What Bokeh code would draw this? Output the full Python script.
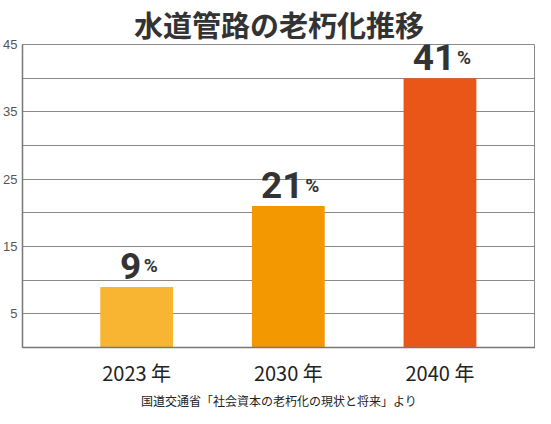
from bokeh.plotting import figure
from bokeh.models import Range1d, FixedTicker, Title, ColumnDataSource
from bokeh.core.properties import value
from bokeh.embed import file_html
from bokeh.resources import INLINE

# ---- data ----
categories = ["2023 年", "2030 年", "2040 年"]
values = [9, 21, 40]
value_labels = ["9", "21", "41"]
bar_colors = ["#F7B531", "#F39800", "#E95618"]
y_tick_values = [5, 15, 25, 35, 45]
grid_values = [0, 5, 10, 15, 20, 25, 30, 35, 40, 45]
title_text = "水道管路の老朽化推移"
source_text = "国道交通省「社会資本の老朽化の現状と将来」より"

xs = list(range(len(categories)))
src = ColumnDataSource(dict(
    x=xs, top=values, label=value_labels, color=bar_colors,
    pct=["%"] * len(xs),
    num_off=[-6] * len(xs),
    pct_off=[-6 + 10 * len(s) + 3 for s in value_labels],
))

p = figure(width=535, height=408,
           x_range=Range1d(-0.753, 2.630), y_range=Range1d(0, 45),
           output_backend="svg", toolbar_location=None,
           min_border_left=14, min_border_right=0,
           min_border_top=35, min_border_bottom=54)

p.title.text = title_text
p.title.align = "center"
p.title.text_font = "Noto Sans CJK JP"
p.title.text_font_size = "29px"
p.title.text_font_style = "bold"
p.title.text_color = "#333333"
p.title.standoff = 0

p.vbar(x="x", top="top", width=0.48, fill_color="color", line_color=None, source=src)

p.text(x="x", y="top", text="label", source=src, x_offset="num_off", y_offset=-21,
       text_align="center", text_baseline="alphabetic",
       text_font=value("Roboto"), text_font_style="bold", text_font_size="37px",
       text_color="#333333")
p.text(x="x", y="top", text="pct", source=src, x_offset="pct_off", y_offset=-21,
       text_align="left", text_baseline="alphabetic",
       text_font=value("Roboto"), text_font_style="bold", text_font_size="19px",
       text_color="#333333")

p.xgrid.visible = False
p.ygrid.ticker = FixedTicker(ticks=grid_values)
p.ygrid.grid_line_color = "#8a8a8a"
p.ygrid.grid_line_width = 1

p.yaxis.ticker = FixedTicker(ticks=y_tick_values)
p.yaxis.major_tick_out = 0
p.yaxis.major_tick_in = 0
p.yaxis.minor_tick_out = 0
p.yaxis.minor_tick_in = 0
p.yaxis.axis_line_color = "#777777"
p.yaxis.axis_line_width = 1.5
p.yaxis.major_label_text_font = "Liberation Sans"
p.yaxis.major_label_text_font_size = "13px"
p.yaxis.major_label_text_color = "#555555"
p.yaxis.major_label_standoff = 5

p.xaxis.ticker = FixedTicker(ticks=xs)
p.xaxis.major_label_overrides = {i: c for i, c in zip(xs, categories)}
p.xaxis.major_tick_out = 0
p.xaxis.major_tick_in = 0
p.xaxis.minor_tick_out = 0
p.xaxis.minor_tick_in = 0
p.xaxis.axis_line_color = "#777777"
p.xaxis.axis_line_width = 1.5
p.xaxis.major_label_text_font = "Noto Sans CJK JP"
p.xaxis.major_label_text_font_size = "20px"
p.xaxis.major_label_text_color = "#222222"
p.xaxis.major_label_standoff = 10

p.outline_line_color = "#8a8a8a"
p.outline_line_width = 1

p.add_layout(Title(text=source_text, align="center", text_font="Noto Sans CJK JP",
                   text_font_size="12px", text_font_style="normal",
                   text_color="#222222", standoff=0), "below")

open("out.html", "w").write(file_html(p, INLINE))
